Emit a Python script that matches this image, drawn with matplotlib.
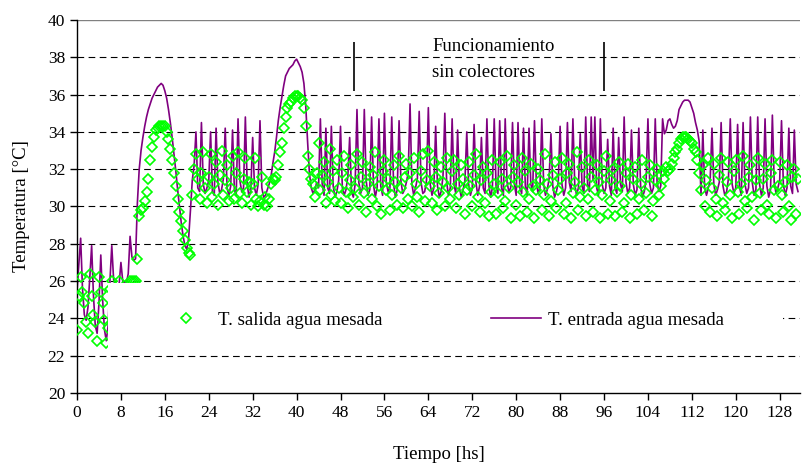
import numpy as np
import matplotlib.pyplot as plt
from matplotlib.patches import Rectangle
from matplotlib.lines import Line2D

plt.rcParams['font.family'] = ['Liberation Serif', 'DejaVu Serif']

# registro cada 20 minutos (3 por hora)
paso_h = 1 / 3

entrada = [
    25.5, 26.9, 28.3, 25.6, 24.2, 23.9, 24.6, 26.2, 27.9, 25.2, 23.6, 23.2,
    24.8, 27.4, 25.0, 23.4, 22.8, 23.6, 26.0, 27.9, 26.1, 25.7, 25.8, 25.8,
    27.0, 26.0, 25.9, 25.9, 26.4, 28.4, 27.3, 27.1, 27.2, 30.2, 32.0, 33.0,
    33.7, 34.3, 34.8, 35.2, 35.5, 35.8, 36.0, 36.2, 36.4, 36.5, 36.6, 36.5,
    36.2, 35.8, 35.2, 34.5, 33.7, 32.8, 31.9, 30.9, 30.0, 29.1, 28.4, 27.9,
    27.7, 28.3, 29.8, 31.4, 32.2, 34.0, 31.0, 30.8, 34.5, 31.2, 30.7, 31.0,
    31.4, 34.0, 30.8, 30.6, 34.2, 31.3, 30.7, 30.9, 31.5, 34.2, 31.0, 30.6,
    31.1, 34.1, 30.9, 30.6, 34.7, 31.4, 30.8, 31.0, 34.8, 31.2, 30.5, 30.9,
    33.7, 31.0, 30.6, 31.2, 34.6, 31.0, 30.5, 30.6, 30.9, 31.2, 31.6, 32.3,
    32.9, 33.7, 34.6, 35.3, 35.9, 36.5, 37.0, 37.2, 37.4, 37.5, 37.6, 37.8,
    37.9, 37.7, 37.5, 37.2, 36.6, 35.4, 33.5, 31.8, 31.0, 30.7, 30.9, 31.3,
    31.0, 34.7, 31.2, 30.6, 34.2, 31.0, 30.7, 34.3, 31.1, 30.5, 30.8, 31.4,
    34.3, 31.0, 30.6, 30.9, 31.6, 33.7, 30.8, 30.5, 31.2, 35.2, 31.3, 30.7,
    31.0, 35.2, 31.4, 30.6, 30.9, 34.8, 31.2, 30.5, 31.0, 34.7, 31.1, 30.6,
    35.0, 31.3, 30.8, 31.0, 34.8, 31.2, 30.5, 30.9, 34.6, 31.4, 30.7, 30.9,
    31.3, 31.8, 35.5, 31.2, 30.6, 31.0, 31.5, 35.1, 31.3, 30.7, 30.8, 31.4,
    35.3, 31.2, 30.6, 31.0, 34.3, 31.1, 30.5, 30.8, 31.6, 35.0, 31.3, 30.6,
    31.0, 34.7, 31.2, 30.7, 34.1, 31.0, 30.5, 30.9, 31.4, 34.0, 31.2, 30.6,
    31.0, 34.4, 31.3, 30.6, 31.1, 33.7, 31.0, 30.7, 34.7, 31.2, 30.5, 31.0,
    34.7, 31.1, 30.7, 34.6, 31.0, 30.6, 34.7, 31.3, 30.8, 31.0, 34.5, 31.2,
    30.6, 34.5, 31.0, 30.7, 34.2, 31.1, 30.6, 34.2, 31.2, 30.8, 34.6, 31.3,
    30.7, 31.0, 34.7, 31.2, 30.6, 30.9, 31.5, 33.9, 31.1, 30.5, 30.8, 31.3,
    34.3, 31.2, 30.6, 31.0, 34.5, 31.3, 30.8, 34.7, 31.2, 30.6, 31.0, 33.9,
    31.1, 30.7, 34.8, 31.2, 30.8, 34.8, 31.4, 34.8, 31.0, 30.6, 34.7, 31.2,
    30.7, 31.0, 33.6, 31.1, 30.6, 34.2, 31.0, 30.7, 33.7, 31.2, 30.8, 34.8,
    31.3, 30.7, 31.0, 34.1, 31.2, 30.6, 30.9, 34.2, 31.1, 30.5, 30.8, 31.4,
    34.7, 31.2, 30.7, 31.0, 34.7, 31.3, 30.8, 31.1, 34.7, 33.9, 34.1, 34.6,
    34.7, 34.4, 34.2, 34.3, 34.6, 35.2, 35.4, 35.6, 35.7, 35.7, 35.7, 35.6,
    35.3, 35.0, 34.5, 34.1, 33.5, 30.6, 34.1, 31.0, 30.6, 31.0, 31.4, 34.2,
    31.2, 30.6, 30.9, 31.3, 34.5, 31.1, 30.6, 30.8, 31.5, 34.7, 31.2, 30.7,
    31.0, 34.4, 31.1, 30.6, 34.5, 31.2, 30.7, 31.0, 34.8, 31.3, 30.6, 30.9,
    34.8, 31.2, 30.6, 31.0, 34.7, 31.1, 30.5, 30.9, 34.9, 31.3, 30.7, 31.0,
    31.4, 34.6, 31.2, 30.6, 31.0, 34.2, 31.1, 30.7, 34.1, 31.2, 30.8,
]

salida = [
    23.4, 25.2, 26.2, 25.4, 24.8, 23.8, 23.2, 26.4, 25.2, 24.2, 23.8, 22.8,
    26.2, 25.4, 24.8, 23.9, 22.7, 23.5, 25.6, 26.0, 25.6, 25.5, 25.6, 26.0,
    25.6, 25.5, 25.6, 25.5, 25.6, 26.0, 26.0, 26.0, 26.0, 27.2, 29.5, 29.8,
    29.9, 30.3, 30.8, 31.5, 32.5, 33.2, 33.7, 34.1, 34.2, 34.3, 34.3, 34.3,
    34.3, 34.0, 33.6, 33.1, 32.5, 31.8, 31.1, 30.4, 29.7, 29.2, 28.7, 28.2,
    27.8, 27.5, 27.4, 30.6, 32.0, 32.8, 31.5, 30.4, 31.8, 32.9, 31.0, 30.2,
    31.6, 32.8, 30.5, 31.2, 32.4, 30.1, 31.7, 33.0, 30.6, 31.4, 32.2, 30.3,
    31.0, 32.7, 30.4, 31.8, 32.9, 30.7, 30.2, 31.5, 32.6, 30.8, 31.3, 30.1,
    31.2, 32.6, 30.4, 30.0, 30.3, 31.6, 30.1, 30.5, 30.0, 30.4, 31.2, 31.5,
    31.4, 31.6, 32.2, 32.9, 33.4, 34.2, 34.8, 35.3, 35.5, 35.6, 35.8, 35.9,
    35.9, 35.9, 35.8, 35.7, 35.3, 34.3, 32.7, 32.0, 31.5, 31.2, 30.5, 31.8,
    33.4, 30.9, 31.7, 32.4, 30.2, 31.3, 33.1, 30.6, 31.9, 30.3, 32.5, 31.0,
    30.2, 31.8, 32.7, 30.8, 29.9, 31.4, 32.2, 30.5, 31.0, 32.8, 30.1, 31.6,
    32.4, 30.7, 29.7, 31.2, 32.1, 30.4, 31.7, 32.9, 30.0, 31.1, 29.6, 31.9,
    32.5, 30.9, 31.5, 29.8, 30.6, 32.2, 31.3, 30.1, 32.7, 31.0, 29.9, 31.6,
    32.3, 30.4, 31.8, 30.0, 32.6, 31.2, 30.5, 29.7, 31.9, 32.8, 30.3, 31.4,
    33.0, 31.1, 30.2, 32.4, 31.6, 29.8, 30.7, 32.1, 31.3, 30.0, 32.6, 31.0,
    30.4, 31.9, 32.5, 29.9, 31.2, 30.6, 32.2, 31.5, 29.6, 30.9, 32.4, 31.1,
    30.0, 31.7, 32.8, 30.5, 29.7, 31.4, 32.1, 30.2, 31.8, 29.5, 30.8, 32.5,
    31.2, 29.6, 30.7, 32.4, 31.5, 29.9, 30.3, 32.7, 31.0, 29.4, 31.6, 32.2,
    30.1, 31.3, 29.5, 32.6, 30.8, 31.9, 29.7, 30.4, 32.3, 31.1, 29.4, 30.9,
    32.0, 31.4, 29.8, 30.6, 32.8, 31.2, 29.5, 30.3, 31.7, 32.4, 29.9, 30.9,
    31.5, 32.6, 29.6, 30.2, 31.8, 32.3, 29.4, 30.7, 31.3, 32.9, 29.8, 30.5,
    32.1, 31.0, 29.5, 30.4, 32.5, 31.6, 29.7, 30.9, 32.2, 31.3, 29.4, 30.6,
    31.9, 32.7, 29.6, 30.3, 31.4, 32.0, 29.5, 30.8, 32.4, 31.1, 29.7, 30.2,
    31.8, 32.3, 29.4, 30.6, 31.5, 32.1, 29.6, 30.4, 31.2, 32.5, 29.8, 30.7,
    31.6, 32.2, 29.5, 30.3, 31.4, 32.0, 30.6, 31.1, 31.9, 31.5, 32.1, 31.9,
    32.0, 32.3, 32.6, 32.9, 33.1, 33.4, 33.6, 33.7, 33.7, 33.7, 33.6, 33.5,
    33.4, 33.1, 32.9, 32.5, 31.8, 30.9, 32.2, 30.0, 31.4, 32.6, 29.7, 31.0,
    32.3, 30.4, 29.5, 31.7, 32.6, 30.2, 29.8, 31.3, 32.4, 30.6, 29.4, 31.9,
    32.5, 30.8, 29.6, 31.2, 32.7, 30.3, 29.9, 31.6, 32.2, 30.5, 29.3, 31.4,
    32.6, 30.7, 29.8, 31.5, 32.3, 30.1, 29.6, 31.8, 32.5, 30.9, 29.4, 31.1,
    32.4, 30.6, 29.7, 31.3, 32.2, 30.0, 29.3, 31.6, 32.0, 29.6, 31.5,
]

tiempo = np.arange(len(entrada)) * paso_h
xticks = [0, 8, 16, 24, 32, 40, 48, 56, 64, 72, 80, 88, 96, 104, 112, 120, 128]
yticks = [20, 22, 24, 26, 28, 30, 32, 34, 36, 38, 40]
marcas = [50.4, 96.0]  # limites del periodo sin colectores

fig = plt.figure(figsize=(8.03, 4.66), dpi=100)
ax = fig.add_axes([77 / 803, 73 / 466, 723 / 803, 373 / 466])

for y in yticks[1:-1]:
    ax.axhline(y, color='black', lw=0.8, dashes=(6, 4), zorder=1)
ax.axhline(40, color='#808080', lw=1.0, zorder=1)

ax.plot(tiempo, entrada, color='#800080', lw=1.2, zorder=2)
ax.plot(tiempo, salida, ls='none', marker='D', ms=5, mfc='none',
        mec='#00FF00', mew=1.2, zorder=3)

ax.set_xlim(0, 131.7)
ax.set_ylim(20, 40)
ax.set_xticks(xticks)
ax.set_yticks(yticks)
ax.tick_params(direction='out', length=5, width=1, labelsize=12.5, colors='black')
for s in ['top', 'right']:
    ax.spines[s].set_visible(False)
for s in ['left', 'bottom']:
    ax.spines[s].set_linewidth(1.0)

ax.set_ylabel('Temperatura [°C]', fontsize=13.5, labelpad=13)
ax.set_xlabel('Tiempo [hs]', fontsize=13.5, labelpad=18)

# recuadro blanco de la leyenda
ax.add_patch(Rectangle((0.0433, 0.12), 0.933, 0.175, transform=ax.transAxes,
                       facecolor='white', edgecolor='none', zorder=4))
h_sal = Line2D([], [], ls='none', marker='D', ms=5, mfc='none', mec='#00FF00', mew=1.2)
h_ent = Line2D([], [], color='#800080', lw=1.2)
leg = ax.legend([h_sal, h_ent], ['T. salida agua mesada', 'T. entrada agua mesada'],
                loc='center left', bbox_to_anchor=(0.1162, 0.1957), ncol=2,
                frameon=False, handlelength=2.67, handletextpad=0.37,
                columnspacing=5.8, borderpad=0, borderaxespad=0, fontsize=13.5)
leg.set_zorder(5)

ax.vlines(marcas, 36.2, 38.8, color='black', lw=1.2, zorder=3)
ax.text(64.7, 37.9, 'Funcionamiento\nsin colectores', ha='left', va='center',
        fontsize=13.5, linespacing=1.7)

fig.savefig('out.png', dpi=100)
